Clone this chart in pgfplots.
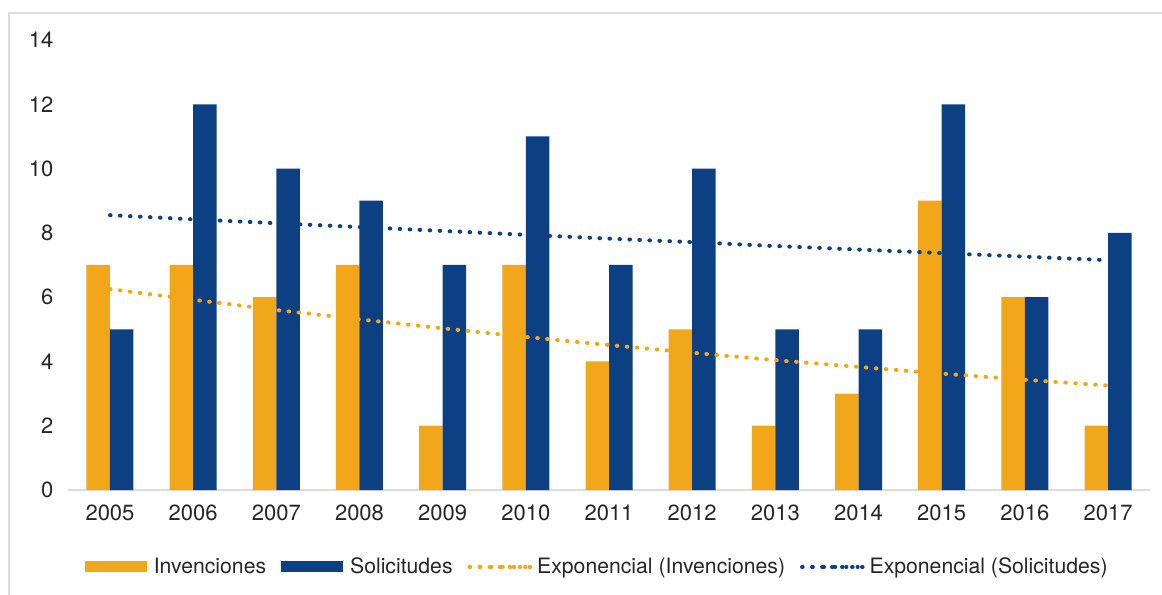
\documentclass[border=0pt]{standalone}
\usepackage{fontspec}
\setmainfont{TeX Gyre Heros}
\usepackage{pgfplots}
\pgfplotsset{compat=1.18}
\definecolor{inv}{RGB}{242,167,27}
\definecolor{sol}{RGB}{12,64,130}
\definecolor{txt}{RGB}{38,38,38}
\definecolor{framec}{RGB}{220,220,220}
\begin{document}
\begin{tikzpicture}
\path[use as bounding box] (0,0) rectangle (581bp,297.5bp);
\draw[framec, line width=1bp] (4.5bp,0) -- (4.5bp,291bp) -- (581bp,291bp);
\begin{axis}[
  at={(34.2bp,52.5bp)}, anchor=south west,
  scale only axis, width=540.6bp, height=225bp,
  xmin=-0.5, xmax=12.5, ymin=0, ymax=14,
  enlargelimits=false,
  xtick={0,...,12},
  xticklabels={2005,2006,2007,2008,2009,2010,2011,2012,2013,2014,2015,2016,2017},
  ytick={0,2,...,14},
  axis x line*=bottom, axis y line*=left,
  x axis line style={framec, line width=1bp, -},
  y axis line style={draw=none},
  major tick length=0pt,
  /pgf/number format/assume math mode=true,
  ticklabel style={font=\fontsize{11bp}{13bp}\selectfont, text=txt},
  yticklabel style={xshift=-4bp},
  xticklabel style={yshift=-4bp},
  legend style={at={(0.49,-0.171)}, anchor=center, draw=none, fill=none,
    font=\fontsize{10.6bp}{13bp}\selectfont, text=txt,
    /tikz/every even column/.append style={column sep=5.5bp}},
  legend columns=4,
  clip=false,
]
\addplot[ybar, bar width=11.75bp, bar shift=-5.875bp, fill=inv, draw=none,
  legend image code/.code={\path (0bp,0bp) -- (32.5bp,0bp);
    \fill[inv] (0bp,-2.75bp) rectangle (31bp,2.75bp);}]
  coordinates {(0,7) (1,7) (2,6) (3,7) (4,2) (5,7) (6,4) (7,5) (8,2) (9,3) (10,9) (11,6) (12,2)};
\addlegendentry{Invenciones}
\addplot[ybar, bar width=11.75bp, bar shift=5.875bp, fill=sol, draw=none,
  legend image code/.code={\path (0bp,0bp) -- (32.5bp,0bp);
    \fill[sol] (0bp,-2.75bp) rectangle (31bp,2.75bp);}]
  coordinates {(0,5) (1,12) (2,10) (3,9) (4,7) (5,11) (6,7) (7,10) (8,5) (9,5) (10,12) (11,6) (12,8)};
\addlegendentry{Solicitudes}
\addplot[sharp plot, inv, line width=2bp, line cap=round, dash pattern=on 0.3bp off 4.7bp,
  legend image code/.code={\path (0bp,0bp) -- (30.8bp,0bp);
    \draw[inv, line width=2.1bp, line cap=round, dash pattern=on 0pt off 5.625bp] (5.3bp,0bp) -- (27.85bp,0bp);}]
  coordinates {(0,6.25) (1,5.92) (2,5.60) (3,5.31) (4,5.03) (5,4.76) (6,4.51) (7,4.27) (8,4.04) (9,3.83) (10,3.62) (11,3.43) (12,3.25)};
\addlegendentry{Exponencial (Invenciones)}
\addplot[sharp plot, sol, line width=2bp, line cap=round, dash pattern=on 0.3bp off 4.7bp,
  legend image code/.code={\path (0bp,0bp) -- (30.8bp,0bp);
    \draw[sol, line width=2.1bp, line cap=round, dash pattern=on 0pt off 5.625bp] (5.3bp,0bp) -- (27.85bp,0bp);}]
  coordinates {(0,8.55) (1,8.42) (2,8.30) (3,8.18) (4,8.06) (5,7.94) (6,7.82) (7,7.71) (8,7.59) (9,7.48) (10,7.37) (11,7.26) (12,7.15)};
\addlegendentry{Exponencial (Solicitudes)}
\end{axis}
\end{tikzpicture}
\end{document}
